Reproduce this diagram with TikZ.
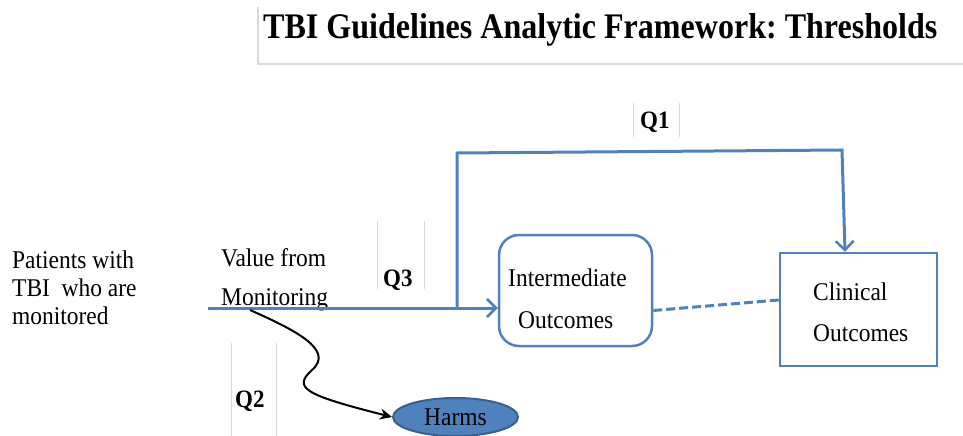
\documentclass[tikz,border=0pt]{standalone}
\usepackage{fontspec}
\setmainfont{Liberation Serif}
\newfontfamily\bodyfont[FakeStretch=0.92]{Liberation Serif}
\newfontfamily\titlefont[FakeStretch=0.89]{Liberation Serif}
\usetikzlibrary{arrows.meta,shapes.geometric}
\definecolor{mblue}{RGB}{79,129,189}
\definecolor{dblue}{RGB}{58,95,140}
\definecolor{lgray}{RGB}{217,217,217}
\tikzset{
  txt/.style={anchor=base west,inner sep=0pt,font=\bodyfont\fontsize{25.5}{30}\selectfont},
  qlab/.style={anchor=base west,inner sep=0pt,font=\bodyfont\fontsize{25}{30}\selectfont\bfseries},
  frameline/.style={draw=lgray,line width=1.5pt},
  bline/.style={draw=mblue,line width=3pt},
  barb/.style={-{Straight Barb[length=9pt,width=18pt,line width=2.5pt]}},
}
\begin{document}
\frenchspacing
\begin{tikzpicture}[x=1pt,y=-1pt]
\useasboundingbox (0,0) rectangle (963,436);
% title
\draw[frameline] (258,7) -- (258,64) -- (963,64);
\node[anchor=base west,inner sep=0pt,font=\titlefont\fontsize{36}{40}\selectfont\bfseries] (title) at (263,38) {TBI Guidelines Analytic Framework: Thresholds};
% Q label frames
\draw[frameline,line width=1pt] (633,103) -- (633,137) (679,103) -- (679,137);
\node[qlab] (q1) at (640,128) {Q1};
\draw[frameline,line width=1pt] (377,221) -- (377,289) (424,221) -- (424,289);
\node[qlab] (q3) at (383,286) {Q3};
\draw[frameline,line width=1pt] (231,343) -- (231,436) (276,343) -- (276,436);
\node[qlab] (q2) at (235,407) {Q2};
% left texts
\node[txt] (p1) at (12,268) {Patients with};
\node[txt] (p2) at (12,296) {TBI\ \ who are};
\node[txt] (p3) at (12,324) {monitored};
\node[txt] (v1) at (221,266) {Value from};
\node[txt] (v2) at (221,305) {Monitoring};
% boxes
\node[draw=mblue,line width=2.5pt,rounded corners=20pt,minimum width=153pt,minimum height=111pt,inner sep=0pt] (inter) at (575.5,290.5) {};
\node[txt] (it1) at (508,286) {Intermediate};
\node[txt] (it2) at (518,328) {Outcomes};
\node[draw=mblue,line width=2.5pt,minimum width=157pt,minimum height=113pt,inner sep=0pt] (clin) at (858.5,309.5) {};
\node[txt] (ct1) at (813,300) {Clinical};
\node[txt] (ct2) at (813,341) {Outcomes};
% harms
\node[ellipse,draw=dblue,fill=mblue,line width=2pt,minimum width=125pt,minimum height=38pt,inner sep=0pt,font=\bodyfont\fontsize{25.5}{30}\selectfont] (harms) at (455.5,417) {Harms};
% connectors
\coordinate (s) at (208,308);
\coordinate (j) at (457,308);
\coordinate (c1) at (457,153);
\coordinate (c2) at (842,150);
\draw[bline,barb] (s) -- (s -| inter.west);
\draw[bline,barb,line join=miter] (j) -- (c1) -- (c2) -- ([xshift=-13.5pt]clin.north);
\draw[draw=mblue,line width=3pt,dash pattern=on 9pt off 4pt] ([yshift=-20pt]inter.east) -- ([yshift=9.5pt]clin.west);
\coordinate (h0) at (250,310);
\draw[black,line width=2pt,-{Stealth[length=12pt,width=11pt]}] (h0) .. controls (295,330) and (335,350) .. (312,370) .. controls (292,388) and (305,395) .. (harms.west);
\end{tikzpicture}
\end{document}
